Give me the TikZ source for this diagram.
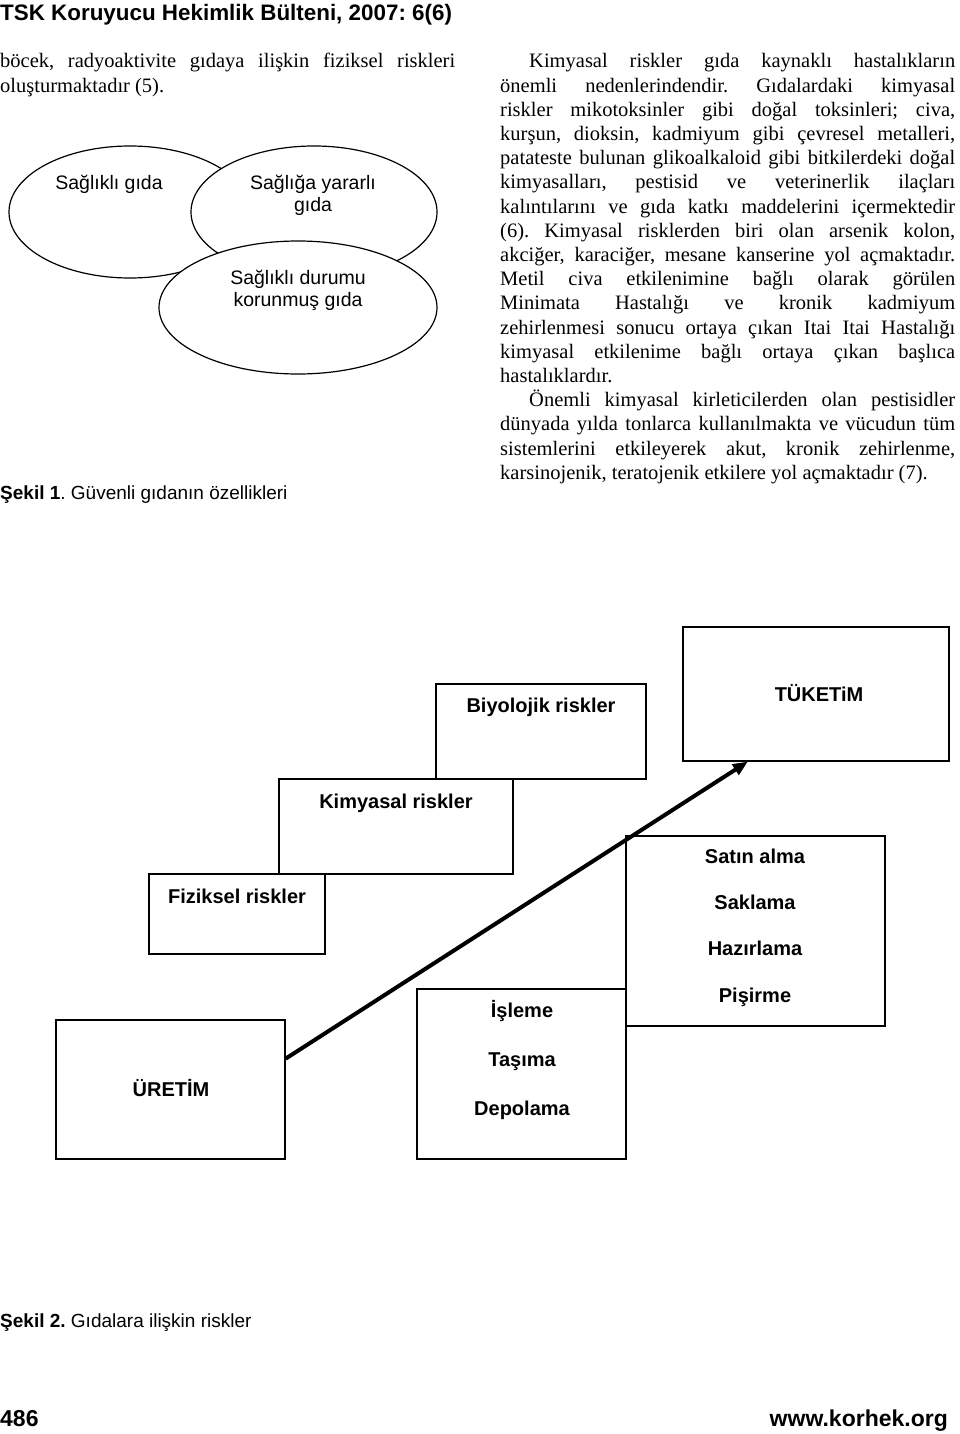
\documentclass[tikz,border=0pt]{standalone}
\usepackage{fontspec}
\setmainfont{Liberation Serif}
\setsansfont{Liberation Sans}
\usetikzlibrary{shapes.geometric,arrows.meta,calc}
\frenchspacing

\begin{document}
\begin{tikzpicture}[yscale=-1
,pbox/.style={draw=black,fill=white,line width=1.2pt,rectangle,inner sep=0pt}
,poval/.style={draw=black,fill=white,line width=1.2pt,ellipse,inner sep=0pt}
,plabel/.style={inner sep=0pt,align=center,font=\fontsize{20}{24}\selectfont\sffamily\bfseries}
,ptext/.style={inner sep=0pt,align=center,font=\fontsize{19.5}{22}\selectfont\sffamily}
,pbody/.style={inner sep=0pt,anchor=base west,text width=455pt,align=justify,font=\fontsize{20.5}{24.2}\selectfont}
,pcap/.style={inner sep=0pt,anchor=base west,font=\fontsize{19}{22}\selectfont\sffamily}
,pfoot/.style={inner sep=0pt,font=\fontsize{23}{26}\selectfont\sffamily\bfseries}
]
\fill[white] (0pt,0pt) rectangle (960pt,1434pt);
\useasboundingbox (0pt,0pt) rectangle (960pt,1434pt);
\node (baslik) at (0pt,21pt)[inner sep=0pt,anchor=base west,font=\fontsize{22.4}{26}\selectfont\sffamily\bfseries]{TSK Koruyucu Hekimlik Bülteni, 2007: 6(6)};
\node (solmetin) at (0pt,68pt)[pbody]{böcek, radyoaktivite gıdaya ilişkin fiziksel riskleri\linebreak oluşturmaktadır (5).};
\node (sagmetin) at (500pt,68pt)[pbody]{\hspace*{29pt}Kimyasal riskler gıda kaynaklı hastalıkların\linebreak
önemli nedenlerindendir. Gıdalardaki kimyasal\linebreak
riskler mikotoksinler gibi doğal toksinleri; civa,\linebreak
kurşun, dioksin, kadmiyum gibi çevresel metalleri,\linebreak
patateste bulunan glikoalkaloid gibi bitkilerdeki doğal\linebreak
kimyasalları, pestisid ve veterinerlik ilaçları\linebreak
kalıntılarını ve gıda katkı maddelerini içermektedir\linebreak
(6). Kimyasal risklerden biri olan arsenik kolon,\linebreak
akciğer, karaciğer, mesane kanserine yol açmaktadır.\linebreak
Metil civa etkilenimine bağlı olarak görülen\linebreak
Minimata Hastalığı ve kronik kadmiyum\linebreak
zehirlenmesi sonucu ortaya çıkan Itai Itai Hastalığı\linebreak
kimyasal etkilenime bağlı ortaya çıkan başlıca\linebreak
hastalıklardır.\par
\hspace*{29pt}Önemli kimyasal kirleticilerden olan pestisidler\linebreak
dünyada yılda tonlarca kullanılmakta ve vücudun tüm\linebreak
sistemlerini etkileyerek akut, kronik zehirlenme,\linebreak
karsinojenik, teratojenik etkilere yol açmaktadır (7).};
% Sekil 1
\node (oval1) at (130pt,212pt)[poval,minimum width=242pt,minimum height=132pt]{};
\node (oval2) at (314pt,212pt)[poval,minimum width=246pt,minimum height=132pt]{};
\node (oval3) at (298pt,307.5pt)[poval,minimum width=278pt,minimum height=133pt]{};
\node (saglikli) at (109pt,184pt)[ptext]{Sağlıklı gıda};
\node (yararli) at (313pt,195pt)[ptext]{Sağlığa yararlı\\gıda};
\node (korunmus) at (298pt,290pt)[ptext]{Sağlıklı durumu\\korunmuş gıda};
\node (sekil1) at (0pt,499pt)[pcap]{\textbf{Şekil 1}. Güvenli gıdanın özellikleri};
% Sekil 2
\node (biyo) at (541pt,731.5pt)[pbox,minimum width=210pt,minimum height=95pt]{};
\node (kimya) at (396pt,826.5pt)[pbox,minimum width=234pt,minimum height=95pt]{};
\node (fizik) at (237pt,914pt)[pbox,minimum width=176pt,minimum height=80pt]{};
\node (uretim) at (170.5pt,1089.5pt)[pbox,minimum width=229pt,minimum height=139pt]{};
\node (isleme) at (521.5pt,1074pt)[pbox,minimum width=209pt,minimum height=170pt]{};
\node (satin) at (755.5pt,931pt)[pbox,minimum width=259pt,minimum height=190pt]{};
\node (tuketim) at (816pt,694pt)[pbox,minimum width=266pt,minimum height=134pt]{};
\node (biyotxt) at (541pt,707pt)[plabel]{Biyolojik riskler};
\node (kimyatxt) at (396pt,803pt)[plabel]{Kimyasal riskler};
\node (fiziktxt) at (237pt,896pt)[plabel]{Fiziksel riskler};
\node (tuketimtxt) at (819pt,693pt)[plabel]{TÜKETiM};
\node (uretimtxt) at (171pt,1088pt)[plabel]{ÜRETİM};
\node (satintxt) at (755pt,927.5pt)[plabel,font=\fontsize{20}{46.3}\selectfont\sffamily\bfseries]{Satın alma\\Saklama\\Hazırlama\\Pişirme};
\node (islemetxt) at (522pt,1060pt)[plabel,font=\fontsize{20}{49}\selectfont\sffamily\bfseries]{İşleme\\Taşıma\\Depolama};
\draw[line width=4pt,-{Triangle[length=15pt,width=12pt]}] ($(uretim.north east)!0.28!(uretim.south east)$) -- ($(tuketim.south west)!0.245!(tuketim.south east)$);
\node (sekil2) at (0pt,1327pt)[pcap]{\textbf{Şekil 2.} Gıdalara ilişkin riskler};
\node (sayfa) at (0pt,1426pt)[pfoot,anchor=base west]{486};
\node (web) at (948pt,1426pt)[pfoot,anchor=base east]{www.korhek.org};
\end{tikzpicture}
\end{document}
